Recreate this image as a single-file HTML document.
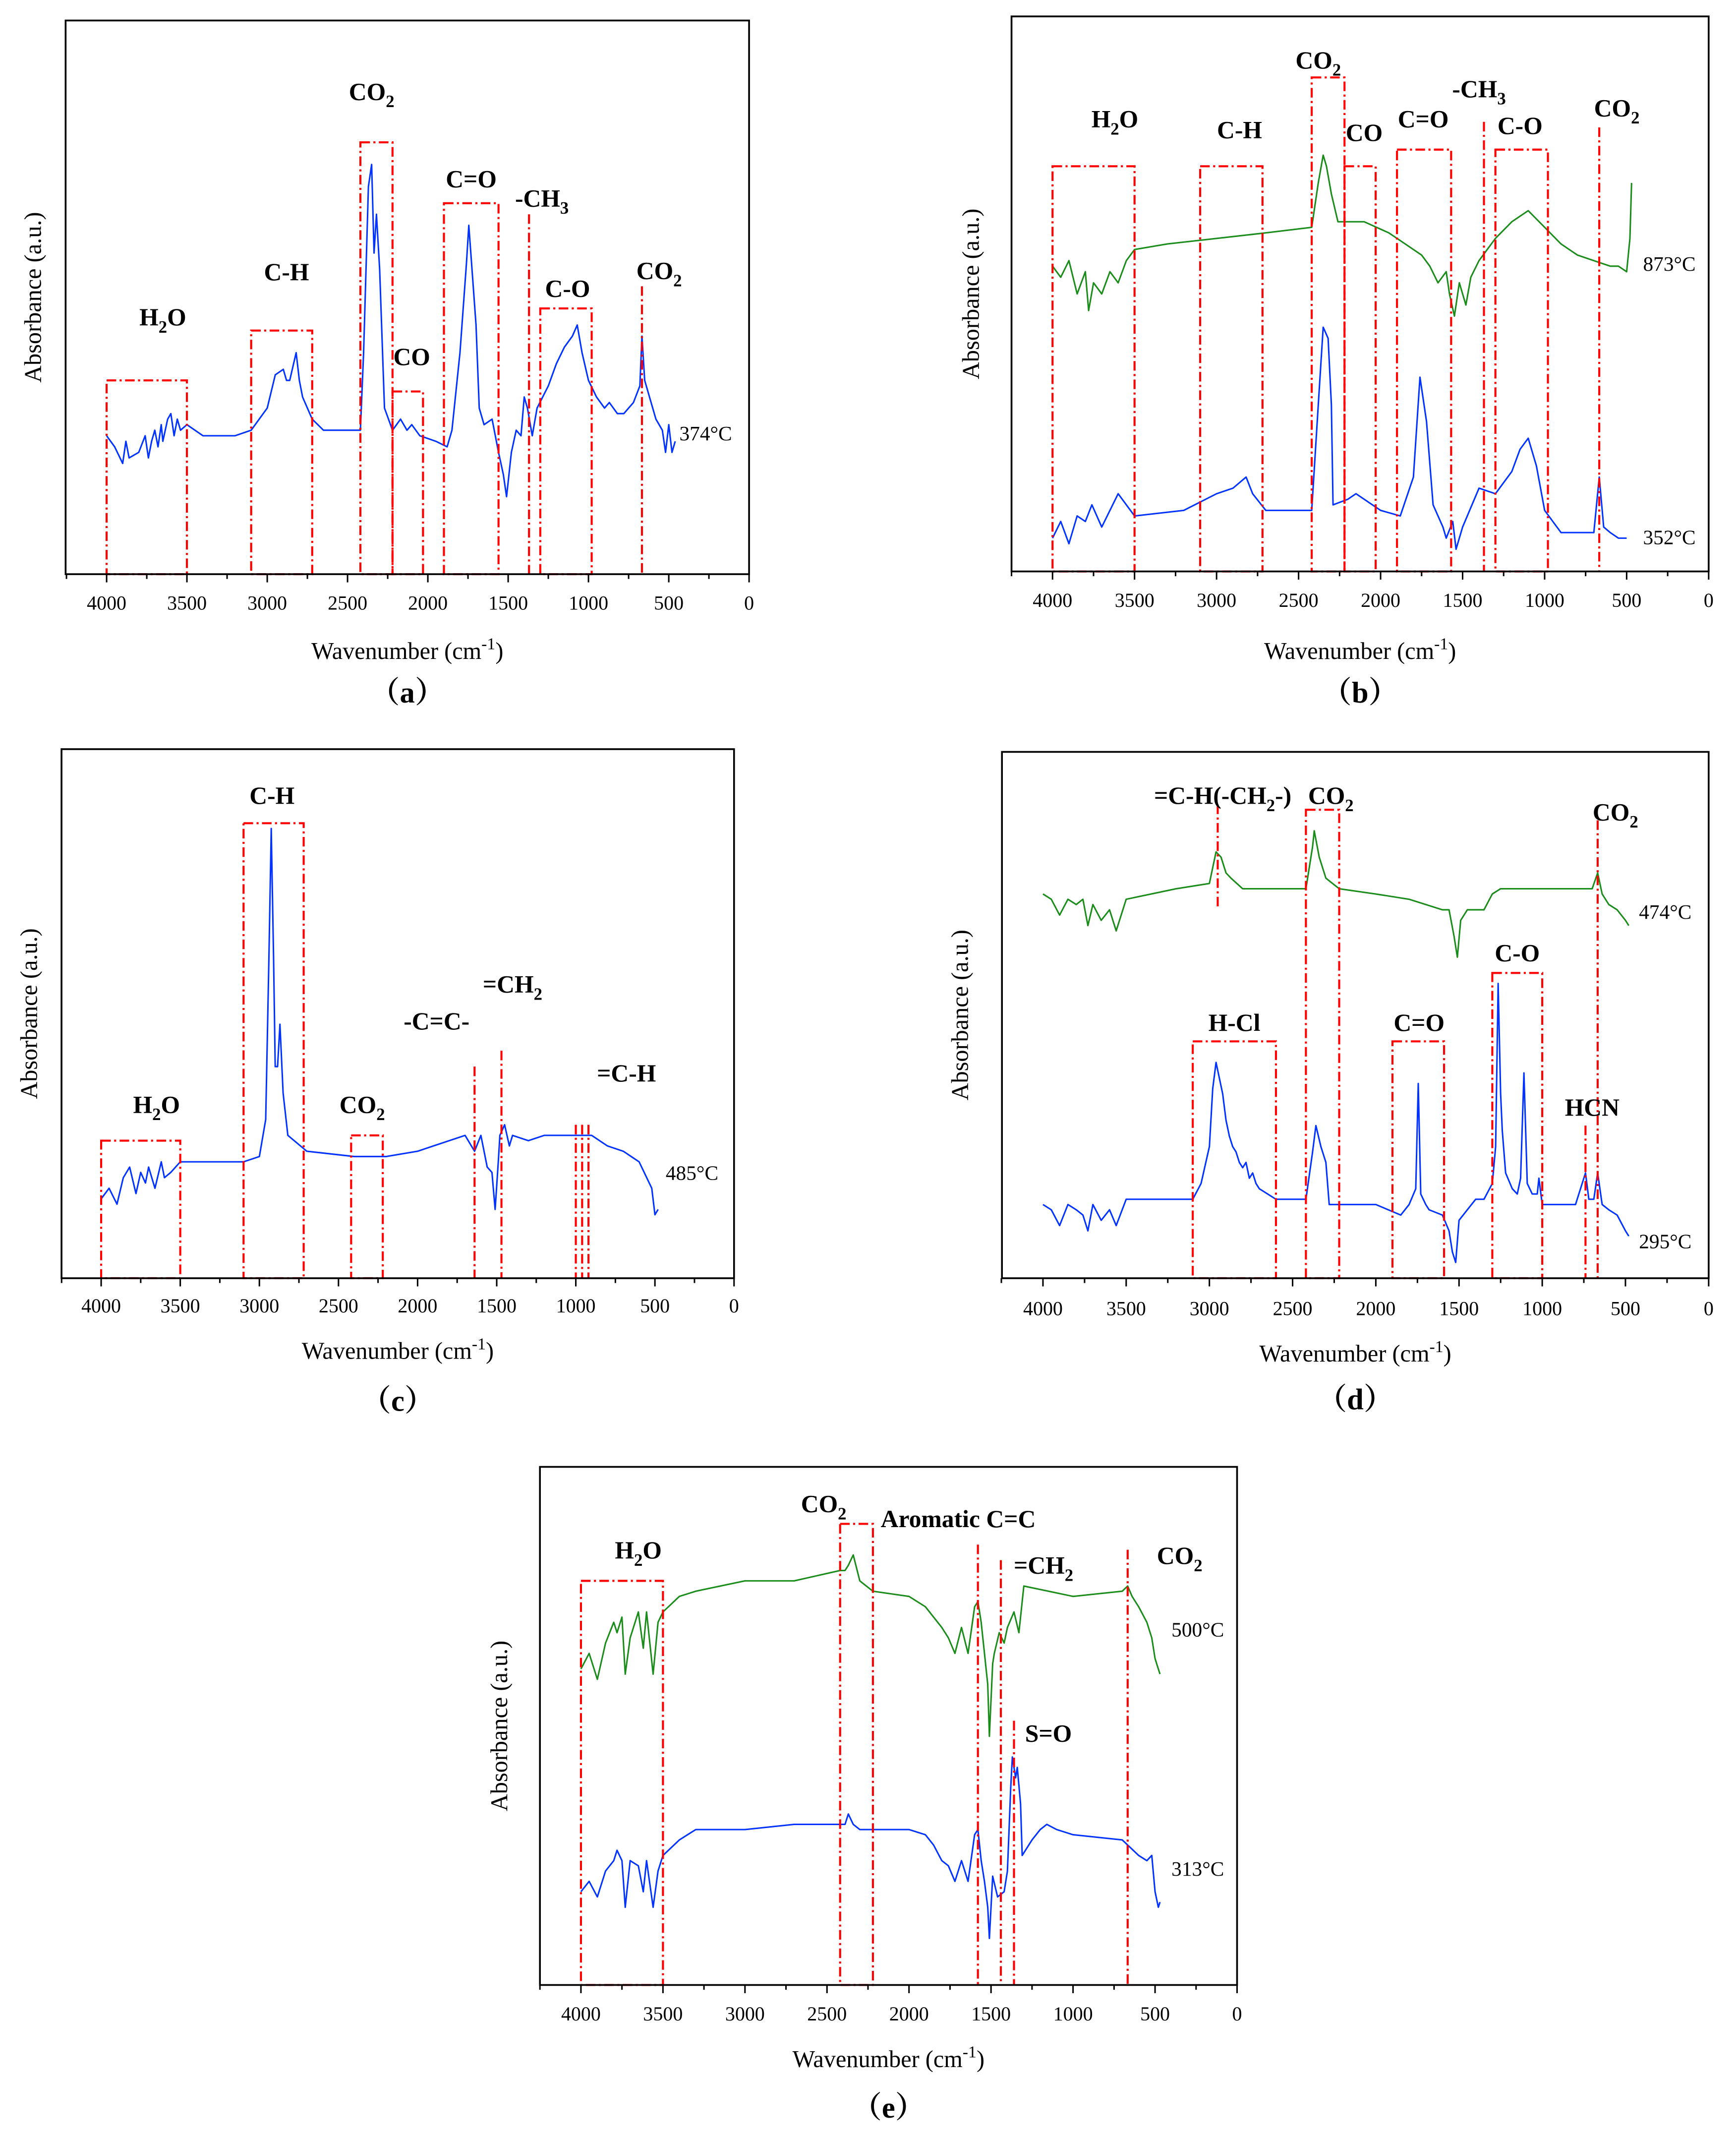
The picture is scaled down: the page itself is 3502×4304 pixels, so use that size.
<!DOCTYPE html>
<html><head><meta charset="utf-8"><style>
html,body{margin:0;padding:0;background:#fff;}
svg{display:block;}
text{font-family:"Liberation Serif","Noto Serif CJK SC",serif;}
</style></head><body>
<svg id="fig" width="3502" height="4304" viewBox="0 0 1270 1561" preserveAspectRatio="none" xmlns="http://www.w3.org/2000/svg"></svg>
<script>
// ---------- data (wavenumber, relative absorbance 0-100 of frame height) ----------
const aWave=[4000,3950,3900,3880,3860,3800,3760,3740,3720,3700,3680,3660,3650,3620,3600,3580,3560,3540,3500,3400,3200,3100,3000,2950,2900,2880,2860,2820,2800,2780,2720,2650,2500,2420,2400,2370,2350,2335,2320,2300,2270,2220,2170,2130,2100,2050,1950,1880,1850,1800,1760,1745,1730,1700,1680,1650,1600,1560,1530,1510,1480,1450,1420,1400,1380,1350,1320,1250,1200,1150,1100,1070,1040,1000,950,900,870,820,780,720,680,667,650,620,580,540,520,500,480,460];
const aVal=[25,23,20,24,21,22,25,21,24,26,23,27,24,28,29,25,28,26,27,25,25,26,30,36,37,35,35,40,35,32,28,26,26,26,40,70,74,58,65,55,30,26,28,26,27,25,24,23,26,40,56,63,57,45,30,27,28,22,18,14,22,26,25,32,30,25,30,34,38,41,43,45,40,35,32,30,31,29,29,31,34,43,35,32,28,26,22,27,22,24];
const bgWave=[4000,3950,3900,3850,3800,3780,3750,3700,3650,3600,3550,3500,3300,3000,2700,2420,2380,2350,2330,2300,2260,2220,2100,1950,1850,1750,1700,1650,1600,1580,1550,1520,1480,1450,1400,1300,1200,1100,1000,900,800,700,600,550,500,480,470];
const bgVal=[55,53,56,50,54,47,52,50,54,52,56,58,59,60,61,62,70,75,73,68,63,63,63,61,59,57,55,52,54,50,46,52,48,53,56,60,63,65,62,59,57,56,55,55,54,60,70];
const bbWave=[4000,3950,3900,3850,3800,3760,3700,3650,3600,3550,3500,3200,3000,2900,2820,2780,2700,2420,2380,2350,2320,2300,2290,2200,2150,2000,1880,1800,1760,1740,1720,1680,1620,1600,1560,1540,1500,1400,1300,1200,1150,1100,1050,1000,900,800,700,667,640,600,550,500];
const bbVal=[6,9,5,10,9,12,8,11,14,12,10,11,14,15,17,14,11,11,30,44,42,30,12,13,14,11,10,17,35,31,27,12,8,6,9,4,8,15,14,18,22,24,19,11,7,7,7,17,8,7,6,6];
const cWave=[4000,3950,3900,3860,3820,3780,3750,3720,3700,3660,3620,3600,3560,3500,3100,3000,2960,2940,2925,2910,2900,2885,2870,2850,2820,2700,2400,2200,2000,1900,1800,1700,1640,1600,1560,1530,1510,1490,1480,1450,1420,1400,1300,1200,1000,900,800,700,600,520,500,480];
const cVal=[15,17,14,19,21,16,20,18,21,17,22,19,20,22,22,23,30,60,85,60,40,40,48,35,27,24,23,23,24,25,26,27,24,27,21,20,13,22,27,29,25,27,26,27,27,27,25,24,22,17,12,13];
const dgWave=[4000,3950,3900,3850,3800,3760,3730,3700,3650,3600,3560,3500,3200,3000,2980,2960,2930,2900,2870,2800,2420,2380,2370,2340,2300,2220,2000,1800,1700,1600,1560,1530,1510,1490,1450,1350,1300,1250,1100,900,700,667,640,600,550,500,480];
const dgVal=[73,72,69,72,71,72,67,71,68,70,66,72,74,75,78,81,80,77,76,74,74,82,85,80,76,74,73,72,71,70,70,65,61,68,70,70,73,74,74,74,74,77,73,71,70,68,67];
const dbWave=[4000,3950,3900,3850,3800,3760,3730,3700,3650,3600,3560,3500,3100,3050,3000,2980,2960,2940,2920,2900,2880,2860,2840,2820,2800,2780,2760,2740,2720,2700,2650,2600,2420,2380,2360,2330,2300,2280,2000,1850,1800,1760,1745,1730,1700,1680,1600,1560,1540,1520,1500,1450,1400,1350,1300,1280,1265,1250,1240,1220,1180,1150,1130,1110,1090,1060,1030,1020,1000,950,800,740,720,690,667,640,600,550,500,480];
const dbVal=[14,13,10,14,13,12,9,14,11,13,10,15,15,18,25,36,41,38,35,30,27,25,24,22,21,22,19,20,18,17,16,15,15,24,29,25,22,14,14,12,14,17,37,16,14,13,12,9,5,3,11,13,15,15,18,25,56,35,28,20,17,16,19,39,18,16,16,19,14,14,14,20,15,15,20,14,13,12,9,8];
const egWave=[4000,3950,3900,3850,3800,3780,3750,3730,3700,3650,3620,3600,3560,3530,3500,3400,3300,3000,2700,2420,2390,2370,2340,2300,2220,2000,1900,1850,1800,1760,1720,1680,1640,1600,1580,1560,1540,1520,1510,1490,1480,1450,1420,1400,1360,1330,1300,1150,1000,700,667,640,600,550,520,500,480,470];
const egVal=[61,64,59,66,70,68,71,60,67,72,65,72,60,70,72,75,76,78,78,80,80,81,83,78,76,75,73,71,69,67,64,69,64,73,74,70,64,58,48,62,64,68,66,69,72,68,77,76,75,76,77,75,73,70,67,63,61,60];
const ebWave=[4000,3950,3900,3850,3800,3780,3750,3730,3700,3650,3620,3600,3560,3530,3500,3400,3300,3000,2700,2420,2390,2370,2340,2300,2220,2000,1900,1850,1800,1760,1720,1680,1640,1600,1580,1560,1540,1520,1510,1490,1460,1420,1400,1380,1370,1350,1340,1320,1310,1250,1200,1160,1100,1000,700,600,550,520,500,480,470];
const ebVal=[18,20,17,22,24,26,24,15,24,23,18,24,15,22,25,28,30,30,31,31,31,33,31,30,30,30,29,27,24,23,20,24,20,29,30,24,20,15,9,21,17,18,22,38,44,40,42,35,25,28,30,31,30,29,28,25,24,25,18,15,16];

// ---------- layout ----------
const NS="http://www.w3.org/2000/svg";
const svg=document.getElementById('fig');
function el(tag,attrs,parent){const e=document.createElementNS(NS,tag);for(const k in attrs)e.setAttribute(k,attrs[k]);(parent||svg).appendChild(e);return e;}
function richText(str,x,y,size,bold,anchor,parent){
  const t=el('text',{x:x,y:y,'font-size':size,'font-weight':bold?'bold':'normal','text-anchor':anchor||'middle',fill:'#000'},parent);
  const parts=str.split(/(_\d+|\^-?\d+)/);
  let shifted=0;
  parts.forEach(p=>{ if(!p)return;
    const ts=document.createElementNS(NS,'tspan');
    if(p[0]==='_'){ts.textContent=p.slice(1);ts.setAttribute('dy',size*0.3);ts.setAttribute('font-size',size*0.7);shifted=size*0.3;}
    else if(p[0]==='^'){ts.textContent=p.slice(1);ts.setAttribute('dy',-size*0.4);ts.setAttribute('font-size',size*0.7);shifted=-size*0.4;}
    else{ts.textContent=p;if(shifted){ts.setAttribute('dy',-shifted);shifted=0;}}
    t.appendChild(ts);});
  return t;
}
const panels=[
 {id:'a',L:48,T:15,R:548,B:420,x0:78,xz:548,tickY:446,xlY:482,letY:514,ylX:30,
  series:[[aWave,aVal,'#0033ff','spectrum-374c']],temps:[['374°C',497,322]],
  boxes:[[4000,3500,35],[3100,2720,44],[2420,2220,78],[2220,2030,33],[1900,1560,67],[1300,980,48]],
  lines:[[1370,65],[667,52]],
  labels:[['H_2O',3650,238],['C-H',2880,205],['CO_2',2350,73],['CO',2100,267],['C=O',1730,137],['-CH_3',1290,151],['C-O',1130,217],['CO_2',560,204]]},
 {id:'b',L:740,T:12,R:1250,B:418,x0:770,xz:1250,tickY:444,xlY:482,letY:514,ylX:716,
  series:[[bgWave,bgVal,'#1a8c1a','spectrum-873c'],[bbWave,bbVal,'#0033ff','spectrum-352c']],temps:[['873°C',1202,198],['352°C',1202,398]],
  boxes:[[4000,3500,73],[3100,2720,73],[2420,2220,89],[2220,2030,73],[1900,1570,76],[1300,980,76]],
  lines:[[1370,81],[667,80]],
  labels:[['H_2O',3620,93],['C-H',2860,101],['CO_2',2380,50],['CO',2100,103],['C=O',1740,93],['-CH_3',1400,71],['C-O',1150,98],['CO_2',560,85]]},
 {id:'c',L:45,T:548,R:537,B:935,x0:74,xz:537,tickY:960,xlY:994,letY:1032,ylX:27,
  series:[[cWave,cVal,'#0033ff','spectrum-485c']],temps:[['485°C',487,863]],
  boxes:[[4000,3500,26],[3100,2720,86],[2420,2220,27]],
  lines:[[1640,40],[1470,43],[1000,29],[960,29],[920,29]],
  labels:[['H_2O',3650,814],['C-H',2920,588],['CO_2',2350,814],['-C=C-',1880,753],['=CH_2',1400,726],['=C-H',680,791]]},
 {id:'d',L:733,T:550,R:1250,B:935,x0:763,xz:1250,tickY:962,xlY:996,letY:1031,ylX:708,
  series:[[dgWave,dgVal,'#1a8c1a','spectrum-474c'],[dbWave,dbVal,'#0033ff','spectrum-295c']],temps:[['474°C',1199,672],['295°C',1199,913]],
  boxes:[[3100,2600,45],[2420,2220,89],[1900,1590,45],[1300,1000,58]],
  lines:[[740,29],[667,87]],
  seg:[[2950,90,70]],
  labels:[['=C-H(-CH_2-)',2920,588],['CO_2',2270,588],['CO_2',560,600],['H-Cl',2850,754],['C=O',1740,754],['C-O',1150,703],['HCN',700,816]]},
 {id:'e',L:395,T:1073,R:905,B:1452,x0:425,xz:905,tickY:1478,xlY:1512,letY:1549,ylX:371,
  series:[[egWave,egVal,'#1a8c1a','spectrum-500c'],[ebWave,ebVal,'#0033ff','spectrum-313c']],temps:[['500°C',857,1197],['313°C',857,1372]],
  boxes:[[4000,3500,78],[2420,2220,89]],
  lines:[[1580,85],[1440,82],[1360,51],[667,84]],
  labels:[['H_2O',3650,1140],['CO_2',2520,1106],['Aromatic C=C',1700,1117],['=CH_2',1180,1151],['S=O',1150,1274],['CO_2',350,1144]]}
];
const red='#ff0000', dash='7 2.5 1.5 2.5';
panels.forEach(p=>{
  const g=el('g',{});
  
  
  const u=(p.xz-p.x0)/8;
  const xs=w=>p.x0+(4000-w)/500*u;
  const ys=v=>p.B-(v/100)*(p.B-p.T);
  p.series.forEach(s=>{
    const d=s[0].map((w,i)=>(i?'L':'M')+xs(w).toFixed(2)+','+ys(s[1][i]).toFixed(2)).join('');
    const path=el('path',{d:d,fill:'none',stroke:s[2],'stroke-width':1.1,'stroke-linejoin':'round'},g);
    
    
  });
  p.boxes.forEach(b=>{
    const r=el('rect',{x:xs(b[0]),y:ys(b[2]),width:xs(b[1])-xs(b[0]),height:p.B-ys(b[2]),fill:'none',stroke:red,'stroke-width':1.5,'stroke-dasharray':dash},g);
    
    
  });
  p.lines.forEach(l=>{
    const ln=el('line',{x1:xs(l[0]),x2:xs(l[0]),y1:ys(l[1]),y2:p.B,stroke:red,'stroke-width':1.5,'stroke-dasharray':dash},g);
    
    
  });
  (p.seg||[]).forEach(l=>{
    const ln=el('line',{x1:xs(l[0]),x2:xs(l[0]),y1:ys(l[1]),y2:ys(l[2]),stroke:red,'stroke-width':1.5,'stroke-dasharray':dash},g);
    
    
  });
  const fr=el('rect',{x:p.L,y:p.T,width:p.R-p.L,height:p.B-p.T,fill:'none',stroke:'#000','stroke-width':1.3},g);
  
  
  for(let w=4250;w>=0;w-=250){
    const x=xs(w); if(x<p.L-0.5)continue;
    const major=w%500===0;
    el('line',{x1:x,x2:x,y1:p.B,y2:p.B+(major?6:3.5),stroke:'#000','stroke-width':1.1},g);
    if(major){const t=el('text',{x:x,y:p.tickY,'font-size':14.5,'text-anchor':'middle'},g);t.textContent=String(w);
      
      }
  }
  const xl=richText('Wavenumber (cm^-1)',(p.L+p.R)/2,p.xlY,17.5,false,'middle',g);
  
  
  const yc=(p.T+p.B)/2;
  const yl=el('text',{x:p.ylX,y:yc,'font-size':17.5,'text-anchor':'middle',transform:`rotate(-90 ${p.ylX} ${yc})`},g);
  yl.textContent='Absorbance (a.u.)';
  
  
  const lt=el('text',{x:(p.L+p.R)/2,y:p.letY,'font-size':22,'font-weight':'bold','text-anchor':'middle'},g);
  lt.textContent='（'+p.id+'）';
  
  
  p.temps.forEach(t=>{const tt=el('text',{x:t[1],y:t[2],'font-size':15,'text-anchor':'start'},g);tt.textContent=t[0];
    
    });
  p.labels.forEach(l=>{const t=richText(l[0],xs(l[1]),l[2],18,true,'middle',g);
    
    });
});
</script>
</body></html>
